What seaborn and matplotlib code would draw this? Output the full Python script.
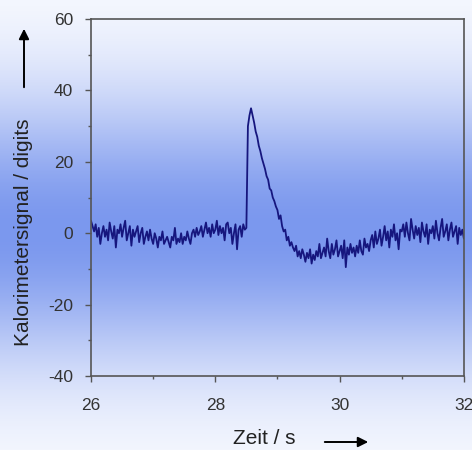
import matplotlib
matplotlib.use("Agg")
import matplotlib.pyplot as plt
from matplotlib.colors import LinearSegmentedColormap
from matplotlib.patches import FancyArrowPatch
from matplotlib.ticker import MultipleLocator
import numpy as np
import pandas as pd
import seaborn as sns

t_start = 26.0
t_step = 0.025
signal = [
    3.5, 2, 0.5, 2.5, -1, 1.5, -3, 0, 2, -1,
    1, -2, 3, 0.5, -1.5, 2, -4, 1, 0, 2.5,
    -1, 1.5, 3.5, -2, 0, 2, -3.5, 1, -1, 0.5,
    2, -2.5, 0, 1.5, -3, -1, 0.5, -2, 1, -1.5,
    -3, 0, -1.5, -4, -1, -2, 0.5, -3, -2, -1,
    -2.5, -4, -1, -2, 1.5, -3, -1.5, -2.5, 0, -3,
    -1, -2, 0.5, -1.5, -3, 0, 1, -1, 1.5, -0.5,
    0.5, 2, -1, 1, 3, 0, 1.5, -1, 2.5, 0,
    1, 3.5, -0.5, 2, 0, 1.5, -2, 2.5, 3, 0,
    1.5, -3, 0, 2.5, -4.5, 1, 2, -1, 2.5, 1,
    1.5, 30, 33, 35, 33, 31, 28.5, 27, 24.5, 23,
    21, 19.5, 18, 16, 15, 12.5, 12, 10, 9, 7.5,
    6.5, 4, 5, 2, 0.5, 1, -2, -1, -3.5, -2.5,
    -4, -5, -3.5, -6.5, -5, -7, -4.5, -6, -8, -5.5,
    -7, -4.5, -8.5, -6, -7.5, -5, -6.5, -3, -7, -5.5,
    -4, -6.5, -1.5, -5, -7, -3, -6, -4.5, -2, -6.5,
    -5, -3.5, -7, -2, -9.5, -4, -6, -3, -5.5, -4,
    -6.5, -3.5, -5.5, -2, -5, -6, -1.5, -4, -3, -5,
    -2, -0.5, -4, 0.5, -3, -1.5, 1, -3.5, -1, 2,
    -2, 0.5, -4, 1, -1, 2.5, -2, 0, -4.5, 1,
    0.5, 2.5, -1, 3, 0, -2, 4, 1, -1.5, 2,
    -0.5, 1.5, -2.5, 3, 0.5, -1, 2.5, -3, 1, 0,
    2, -1.5, 3.5, 0, -2, 1.5, 4, -1, 0.5, 2.5,
    -2, 1, 3, -1, 0.5, 2, -3, 1.5, -0.5, 1,
    -1.5,
]
time = t_start + t_step * np.arange(len(signal))
df = pd.DataFrame({"Zeit": time, "Signal": signal})

sns.set_style("ticks")
plt.rcParams["font.family"] = ["Liberation Sans", "DejaVu Sans"]
plt.rcParams["axes.unicode_minus"] = False

fig = plt.figure(figsize=(4.72, 4.5), dpi=100)

# Vertical background gradient: white - blue - white
bg = fig.add_axes([0, 0, 1, 1], zorder=0)
yy = np.linspace(0, 450, 450)
w = np.exp(-((yy - 230) / 135) ** 2)
cmap = LinearSegmentedColormap.from_list("bg", ["#fbfcff", "#7b98ee"])
bg.imshow(w[:, None], aspect="auto", cmap=cmap, vmin=0, vmax=1,
          extent=[0, 1, 0, 1], origin="upper")
bg.set_axis_off()

ax = fig.add_axes([0.1928, 0.1644, 0.790, 0.7933], zorder=1)
ax.set_facecolor("none")
sns.lineplot(data=df, x="Zeit", y="Signal", ax=ax, color="#16167e", linewidth=1.3)

ax.set_xlim(26, 32)
ax.set_ylim(-40, 60)
ax.xaxis.set_major_locator(MultipleLocator(2))
ax.xaxis.set_minor_locator(MultipleLocator(1))
ax.yaxis.set_major_locator(MultipleLocator(20))
ax.yaxis.set_minor_locator(MultipleLocator(10))
ax.tick_params(which="major", direction="out", length=4, width=1, color="#555555",
               labelsize=12.5, labelcolor="#333333")
ax.tick_params(axis="x", which="major", pad=12)
ax.tick_params(axis="y", which="major", pad=9)
ax.tick_params(which="minor", direction="out", length=2.5, width=1, color="#555555")
for s in ax.spines.values():
    s.set_color("#555555")
    s.set_linewidth(1.2)
ax.set_xlabel("")
ax.set_ylabel("")

# axis titles with arrows
fig.text(264 / 472, 1 - 439 / 450, "Zeit / s", ha="center", va="center",
         fontsize=15, color="#222222")
fig.text(24 / 472, 1 - 232 / 450, "Kalorimetersignal / digits", ha="center",
         va="center", rotation=90, fontsize=15, color="#222222")
fig.patches.append(FancyArrowPatch(
    (322 / 472, 1 - 442 / 450), (371 / 472, 1 - 442 / 450),
    transform=fig.transFigure, arrowstyle="-|>", mutation_scale=15,
    color="black", linewidth=1.4))
fig.patches.append(FancyArrowPatch(
    (24 / 472, 1 - 90 / 450), (24 / 472, 1 - 26 / 450),
    transform=fig.transFigure, arrowstyle="-|>", mutation_scale=15,
    color="black", linewidth=1.4))

fig.savefig("out.png", dpi=100)
